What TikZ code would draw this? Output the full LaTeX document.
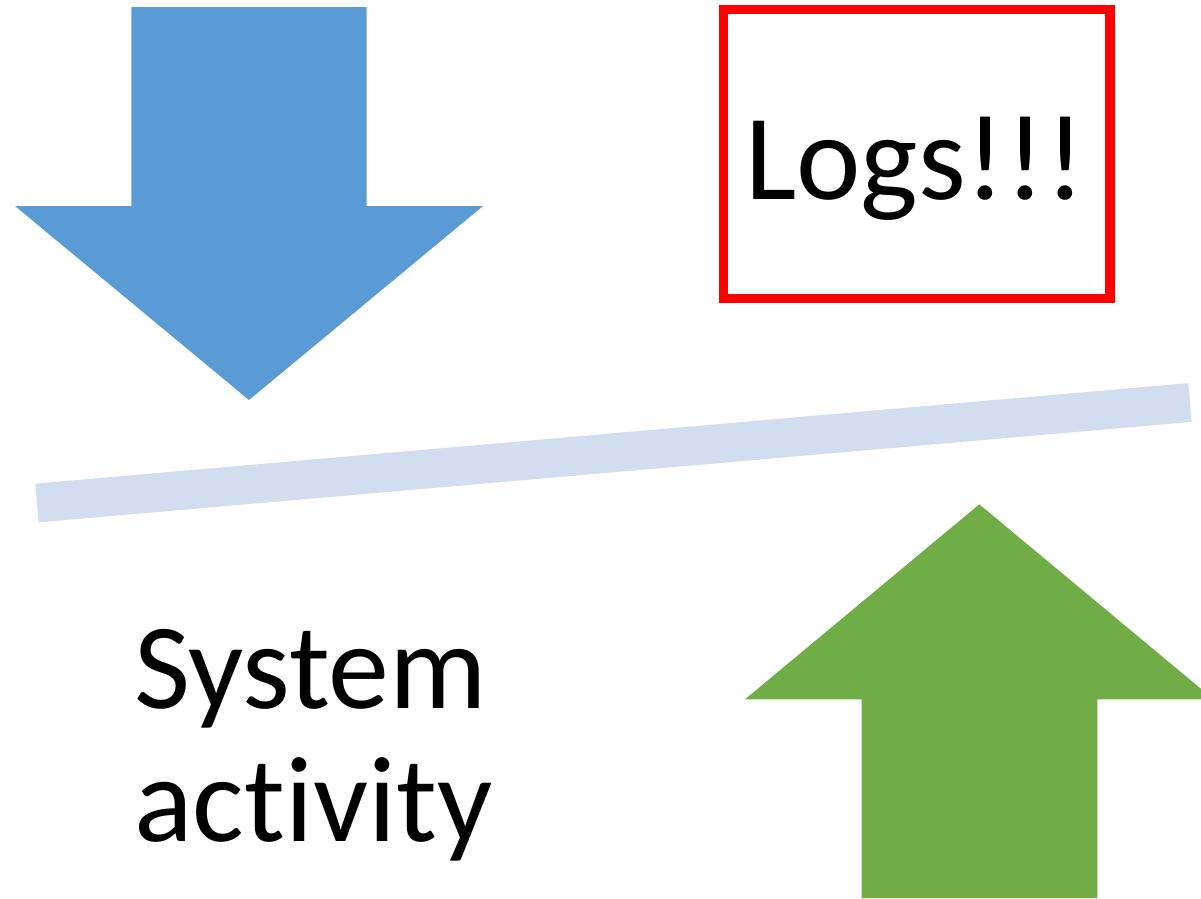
\documentclass[tikz,border=0pt]{standalone}
\usepackage{fontspec}
\setmainfont[Ligatures=NoCommon]{Carlito}
\definecolor{downblue}{HTML}{5B9BD5}
\definecolor{upgreen}{HTML}{70AD47}
\definecolor{barblue}{HTML}{D2DEEF}
\begin{document}
\begin{tikzpicture}[x=1pt,y=-1pt,
  bigtext/.style={inner sep=0pt, font=\fontsize{122}{133.4}\selectfont},
  logbox/.style={draw=red, line width=9.3pt, minimum width=386.5pt, minimum height=289pt, inner sep=0pt}]
\useasboundingbox (0,0) rectangle (1201,898);
\clip (0,0) rectangle (1201,898);
% downward block arrow
\fill[downblue] (131.3,7) -- (366.7,7) -- (366.7,206) -- (483,206) -- (249,400)
  -- (15,206) -- (131.3,206) -- cycle;
% tilted bar
\coordinate (barL) at (37,503);
\coordinate (barR) at (1190,402.5);
\draw[barblue, line width=38.9pt] (barL) -- (barR);
% upward block arrow
\fill[upgreen] (861.7,898) -- (861.7,699.3) -- (745,699.3) -- (979.3,504.3)
  -- (1213.6,699.3) -- (1097.3,699.3) -- (1097.3,898) -- cycle;
% logs box
\node[logbox] (box) at (916.75,154) {};
\node[bigtext, anchor=base] (logs) at (915,199.5) {Logs!!!};
% label
\node[bigtext, anchor=base west] (sys) at (134,708) {System};
\node[bigtext, anchor=base west] (act) at (134,841.5) {activity};
\end{tikzpicture}
\end{document}
